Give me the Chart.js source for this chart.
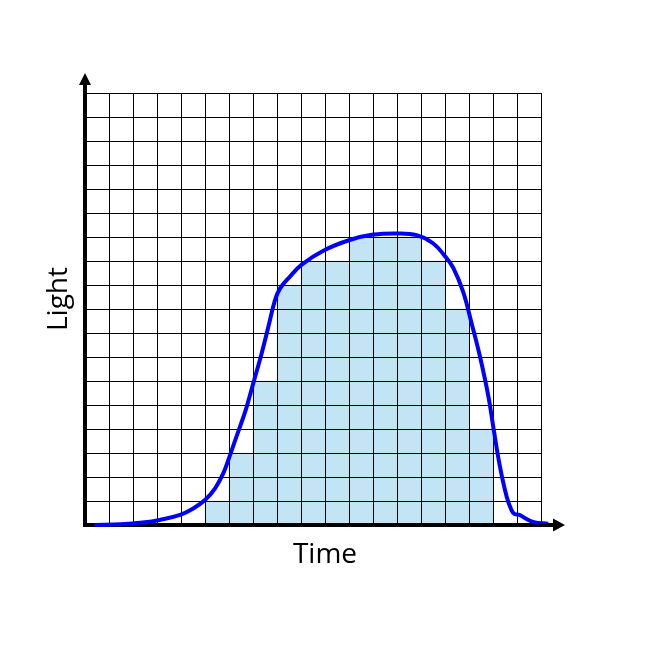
<!DOCTYPE html>
<html>
<head>
<meta charset="utf-8">
<script src="https://cdn.jsdelivr.net/npm/chart.js@4"></script>
<style>
  html, body { margin: 0; padding: 0; background: #fff; }
  #wrap { width: 650px; height: 650px; }
</style>
</head>
<body>
<div id="wrap"><canvas id="grafica" width="650" height="650"></canvas></div>
<script>
// Datos de la gráfica (unidades de la cuadrícula)
const columnas = [0.5, 1.5, 2.5, 3.5, 4.5, 5.5, 6.5, 7.5, 8.5, 9.5, 10.5, 11.5, 12.5, 13.5, 14.5, 15.5, 16.5, 17.5, 18.5];
const barras = [0, 0, 0, 0, 0, 1, 3, 6, 10, 11, 11, 12, 12, 12, 11, 9, 4, 0, 0];

const curvaX = [0.4, 1.5, 2.4, 3.12, 3.96, 4.51, 5.0, 5.42, 5.76, 6.04, 6.3, 6.6, 6.74, 7.01, 7.36, 7.64, 7.92, 8.13, 8.54, 9.03, 9.93, 11.03, 12.01, 12.99, 13.82, 14.5, 15.0, 15.35, 15.76, 16.11, 16.46, 16.81, 17.01, 17.29, 17.57, 17.78, 17.9, 18.1, 18.4, 18.7, 19.3];
const curvaY = [0.0, 0.03, 0.1, 0.21, 0.42, 0.69, 1.04, 1.53, 2.15, 2.9, 3.65, 4.5, 4.93, 5.9, 7.15, 8.26, 9.38, 9.86, 10.35, 10.85, 11.43, 11.875, 12.1, 12.15, 12.08, 11.74, 11.2, 10.7, 9.7, 8.4, 7.01, 5.35, 4.1, 2.43, 1.18, 0.6, 0.46, 0.42, 0.25, 0.12, 0.05];

const tituloX = 'Time';
const tituloY = 'Light';

const fuente = '"Open Sans", "Liberation Sans", sans-serif';

// Plugin: curva encima de la cuadrícula, flechas de los ejes y títulos
const ejesPlugin = {
    id: 'ejes',
    beforeDatasetDraw(chart, args) {
        if (args.index === 1) return false;
    },
    afterDraw(chart) {
        const ctx = chart.ctx;
        const xs = chart.scales.x;
        const ys = chart.scales.y;
        const x0 = xs.getPixelForValue(0);
        const y0 = ys.getPixelForValue(0);
        const xFin = xs.getPixelForValue(19);
        const yFin = ys.getPixelForValue(18);

        chart.getDatasetMeta(1).controller.draw();

        ctx.save();
        ctx.strokeStyle = '#000';
        ctx.fillStyle = '#000';
        ctx.lineWidth = 4;
        ctx.beginPath();
        ctx.moveTo(xFin - 2, y0);
        ctx.lineTo(xFin + 13, y0);
        ctx.moveTo(x0, yFin + 2);
        ctx.lineTo(x0, yFin - 9);
        ctx.stroke();

        ctx.beginPath();
        ctx.moveTo(xFin + 12, y0 - 6.5);
        ctx.lineTo(xFin + 24, y0);
        ctx.lineTo(xFin + 12, y0 + 6.5);
        ctx.closePath();
        ctx.fill();

        ctx.beginPath();
        ctx.moveTo(x0 - 6, yFin - 8);
        ctx.lineTo(x0, yFin - 20);
        ctx.lineTo(x0 + 6, yFin - 8);
        ctx.closePath();
        ctx.fill();

        ctx.font = '28px ' + fuente;
        ctx.textAlign = 'center';
        ctx.textBaseline = 'alphabetic';
        ctx.fillText(tituloX, (x0 + xFin + 24) / 2, y0 + 38);

        ctx.translate(x0 - 18, (y0 + yFin - 20) / 2);
        ctx.rotate(-Math.PI / 2);
        ctx.fillText(tituloY, 0, 0);
        ctx.restore();
    }
};

const ctx = document.getElementById('grafica').getContext('2d');

new Chart(ctx, {
    data: {
        datasets: [
            {
                type: 'bar',
                data: columnas.map((c, i) => ({ x: c, y: barras[i] })),
                backgroundColor: '#C3E4F4',
                borderWidth: 0,
                barPercentage: 1,
                categoryPercentage: 1
            },
            {
                type: 'line',
                data: curvaX.map((c, i) => ({ x: c, y: curvaY[i] })),
                borderColor: '#0000FF',
                borderWidth: 4,
                pointRadius: 0,
                fill: false,
                tension: 0.4,
                clip: false
            }
        ]
    },
    options: {
        responsive: false,
        animation: false,
        layout: {
            padding: { left: 85, right: 109, top: 93, bottom: 125 }
        },
        plugins: {
            legend: { display: false },
            tooltip: { enabled: false }
        },
        scales: {
            x: {
                type: 'linear',
                min: 0,
                max: 19,
                offset: false,
                ticks: { display: false, stepSize: 1 },
                grid: { color: '#000', lineWidth: 1, drawTicks: false, offset: false, z: 1 },
                border: { color: '#000', width: 4, z: 2 }
            },
            y: {
                type: 'linear',
                min: 0,
                max: 18,
                ticks: { display: false, stepSize: 1 },
                grid: { color: '#000', lineWidth: 1, drawTicks: false, z: 1 },
                border: { color: '#000', width: 4, z: 2 }
            }
        }
    },
    plugins: [ejesPlugin]
});
</script>
</body>
</html>
